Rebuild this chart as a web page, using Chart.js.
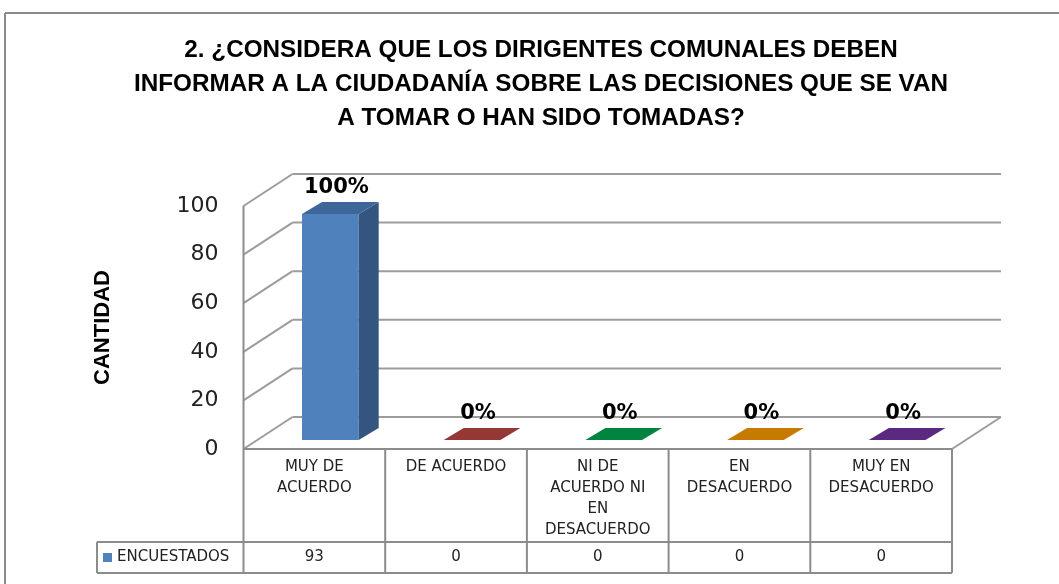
<!DOCTYPE html>
<html>
<head>
<meta charset="utf-8">
<script src="https://cdn.jsdelivr.net/npm/chart.js@4"></script>
<style>
  html, body { margin: 0; padding: 0; background: #fff; }
</style>
</head>
<body>
<canvas id="chart" width="1059" height="584"></canvas>
<script>
// Chart data
const titleLines = [
  "2. ¿CONSIDERA QUE LOS DIRIGENTES COMUNALES DEBEN",
  "INFORMAR A LA CIUDADANÍA SOBRE LAS DECISIONES QUE SE VAN",
  "A TOMAR O HAN SIDO TOMADAS?"
];
const categoryLines = [
  ["MUY DE", "ACUERDO"],
  ["DE ACUERDO"],
  ["NI DE", "ACUERDO NI", "EN", "DESACUERDO"],
  ["EN", "DESACUERDO"],
  ["MUY EN", "DESACUERDO"]
];
const encuestados = [93, 0, 0, 0, 0];
const percentLabels = ["100%", "0%", "0%", "0%", "0%"];
const seriesName = "ENCUESTADOS";
const yAxisTitle = "CANTIDAD";
const yTicks = [0, 20, 40, 60, 80, 100];

// Colours of the bar faces
const frontColors = ["#4F81BD", "#953735", "#00843F", "#C77A00", "#5B2A80"];
const sideColors = ["#34557F", "#7A2C2B", "#006A32", "#A36400", "#4A2268"];
const topColors = ["#3E6698", "#953735", "#00843F", "#C77A00", "#5B2A80"];

// 3D offsets
const WALL_DX = 49, WALL_DY = -32;   // depth of the floor / walls
const FRONT_DX = 16, FRONT_DY = -9;  // where the bar front sits
const BAR_DX = 20, BAR_DY = -12;     // depth of a bar

const gridColor = "#9c9c9c";
const tableColor = "#8c8c8c";
const HEADER_BOTTOM = 542, TABLE_BOTTOM = 573, LEGEND_LEFT = 97;

function line(ctx, x1, y1, x2, y2) {
  ctx.beginPath();
  ctx.moveTo(x1, y1);
  ctx.lineTo(x2, y2);
  ctx.stroke();
}

function poly(ctx, pts, color) {
  ctx.beginPath();
  ctx.moveTo(pts[0][0], pts[0][1]);
  pts.slice(1).forEach(p => ctx.lineTo(p[0], p[1]));
  ctx.closePath();
  ctx.fillStyle = color;
  ctx.fill();
}

const threeD = {
  id: "threeD",
  beforeDatasetsDraw(chart) {
    const { ctx, chartArea: a, scales: { y } } = chart;
    ctx.save();
    ctx.strokeStyle = gridColor;
    ctx.lineWidth = 2;
    // left wall diagonals + back wall gridlines
    yTicks.forEach(v => {
      const py = y.getPixelForValue(v);
      line(ctx, a.left, py, a.left + WALL_DX, py + WALL_DY);
      line(ctx, a.left + WALL_DX, py + WALL_DY, a.right + WALL_DX, py + WALL_DY);
    });
    // floor right edge
    line(ctx, a.right, a.bottom, a.right + WALL_DX, a.bottom + WALL_DY);
    ctx.restore();

    // shift the bar fronts into the depth
    ctx.save();
    ctx.translate(FRONT_DX, FRONT_DY);
  },
  afterDatasetsDraw(chart) {
    const { ctx } = chart;
    ctx.restore();
    const meta = chart.getDatasetMeta(0);
    meta.data.forEach((bar, i) => {
      const { x, y, base, width } = bar.getProps(["x", "y", "base", "width"], true);
      const l = x - width / 2 + FRONT_DX, r = x + width / 2 + FRONT_DX;
      const t = y + FRONT_DY, b = base + FRONT_DY;
      if (b - t > 0.5) {
        poly(ctx, [[r, t], [r + BAR_DX, t + BAR_DY], [r + BAR_DX, b + BAR_DY], [r, b]], sideColors[i]);
      }
      poly(ctx, [[l, t], [r, t], [r + BAR_DX, t + BAR_DY], [l + BAR_DX, t + BAR_DY]], topColors[i]);

      // data label
      ctx.save();
      ctx.font = "bold 21px 'DejaVu Sans'";
      ctx.fillStyle = "#000";
      ctx.textAlign = "center";
      ctx.textBaseline = "middle";
      ctx.fillText(percentLabels[i], x + FRONT_DX + 6, t + BAR_DY - 14);
      ctx.restore();
    });
  },
  afterDraw(chart) {
    const { ctx, chartArea: a, scales: { x, y } } = chart;
    ctx.save();

    // outer frame
    ctx.strokeStyle = "#8a8a8a";
    ctx.lineWidth = 2;
    line(ctx, 5, 13, 1059, 13);
    line(ctx, 5, 13, 5, 584);

    // title
    ctx.fillStyle = "#000";
    ctx.font = "bold 23px 'Liberation Sans'";
    ctx.textAlign = "center";
    ctx.textBaseline = "middle";
    const sx = 814 / ctx.measureText(titleLines[1]).width;
    titleLines.forEach((t, i) => {
      ctx.save();
      ctx.translate(541, 51 + i * 34);
      ctx.scale(sx, 1);
      ctx.fillText(t, 0, 0);
      ctx.restore();
    });

    // data table
    const n = categoryLines.length;
    const colW = (a.right - a.left) / n;
    ctx.strokeStyle = tableColor;
    ctx.lineWidth = 2;
    line(ctx, a.left, y.getPixelForValue(100), a.left, TABLE_BOTTOM);
    line(ctx, a.left, a.bottom, a.right, a.bottom);
    line(ctx, LEGEND_LEFT, HEADER_BOTTOM, a.right, HEADER_BOTTOM);
    line(ctx, LEGEND_LEFT, TABLE_BOTTOM, a.right, TABLE_BOTTOM);
    line(ctx, LEGEND_LEFT, HEADER_BOTTOM, LEGEND_LEFT, TABLE_BOTTOM);
    for (let i = 1; i <= n; i++) {
      const bx = a.left + i * colW;
      line(ctx, bx, a.bottom, bx, TABLE_BOTTOM);
    }

    ctx.font = "15px 'DejaVu Sans'";
    ctx.fillStyle = "#222";
    ctx.textAlign = "center";
    ctx.textBaseline = "middle";
    categoryLines.forEach((lines, i) => {
      const cx = x.getPixelForValue(i);
      lines.forEach((s, j) => ctx.fillText(s, cx, 467 + j * 21));
      ctx.fillText(String(encuestados[i]), cx, 557);
    });

    // legend key inside the table
    ctx.fillStyle = frontColors[0];
    ctx.fillRect(103, 553, 9, 9);
    ctx.fillStyle = "#222";
    ctx.textAlign = "left";
    ctx.fillText(seriesName, 117, 557);

    ctx.restore();
  }
};

const ctx = document.getElementById("chart").getContext("2d");
new Chart(ctx, {
  type: "bar",
  data: {
    labels: categoryLines,
    datasets: [{
      label: seriesName,
      data: encuestados,
      backgroundColor: frontColors,
      borderWidth: 0,
      categoryPercentage: 1,
      barPercentage: 0.4
    }]
  },
  options: {
    responsive: false,
    animation: false,
    layout: { padding: { left: 86, right: 107, top: 206, bottom: 135 } },
    plugins: {
      legend: { display: false },
      title: { display: false },
      tooltip: { enabled: false }
    },
    scales: {
      x: { display: false },
      y: {
        min: 0,
        max: 100,
        afterBuildTicks: scale => { scale.ticks = yTicks.map(v => ({ value: v })); },
        afterFit: scale => { scale.width = 243.5 - 86; },
        grid: { display: false, drawTicks: false },
        border: { display: false },
        ticks: { font: { family: "DejaVu Sans", size: 22 }, color: "#222", padding: 25 },
        title: {
          display: true,
          text: yAxisTitle,
          color: "#000",
          font: { family: "Liberation Sans", size: 22, weight: "bold" },
          padding: { top: 4, bottom: 0 }
        }
      }
    }
  },
  plugins: [threeD]
});
</script>
</body>
</html>
